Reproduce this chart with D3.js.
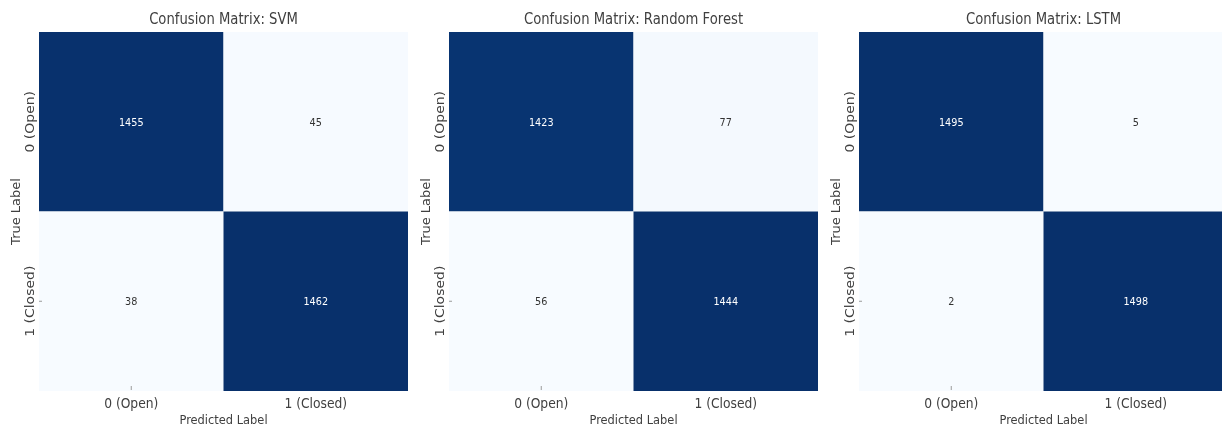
<!DOCTYPE html>
<html>
<head>
<meta charset="utf-8">
<script src="https://cdn.jsdelivr.net/npm/d3@7"></script>
<style>
  html, body { margin: 0; padding: 0; background: #fff; }
  svg { display: block; }
  text { font-family: "DejaVu Sans", sans-serif; }
</style>
</head>
<body>
<svg id="chart" width="1222" height="433"></svg>
<script>
// Confusion matrices for three classifiers (rows: true class, columns: predicted class)
const models = ["SVM", "Random Forest", "LSTM"];
const classLabels = ["0 (Open)", "1 (Closed)"];
const svmMatrix = [[1455, 45], [38, 1462]];
const rfMatrix = [[1423, 77], [56, 1444]];
const lstmMatrix = [[1495, 5], [2, 1498]];
const matrices = [svmMatrix, rfMatrix, lstmMatrix];

// Layout
const panelLeft = [39, 449, 859];
const panelTop = 32;
const panelW = 369;
const panelH = 359;
const sx = 0.88; // narrow horizontal text rendering
const textColor = "#404040";

const svg = d3.select("#chart");

function hText(g, x, y, str, size, opts = {}) {
  return g.append("text")
    .attr("transform", `translate(${x},${y}) scale(${sx},1)` + (opts.rotate ? " rotate(-90)" : ""))
    .attr("text-anchor", "middle")
    .attr("font-size", size)
    .attr("fill", opts.fill || textColor)
    .text(str);
}

models.forEach((name, i) => {
  const m = matrices[i];
  const cells = [];
  m.forEach((row, r) => row.forEach((v, c) => cells.push({ r, c, v })));
  const vals = cells.map(d => d.v);

  const x = d3.scaleBand().domain(d3.range(classLabels.length))
    .range([panelLeft[i], panelLeft[i] + panelW]);
  const y = d3.scaleBand().domain(d3.range(classLabels.length))
    .range([panelTop, panelTop + panelH]);
  const color = d3.scaleSequential(d3.interpolateBlues)
    .domain([d3.min(vals), d3.max(vals)]);

  const g = svg.append("g");

  // heatmap cells
  g.selectAll("rect.cell").data(cells).join("rect")
    .attr("class", "cell")
    .attr("x", d => x(d.c))
    .attr("y", d => y(d.r))
    .attr("width", x.bandwidth())
    .attr("height", y.bandwidth())
    .attr("fill", d => color(d.v));

  // tick marks (only visible over light cells)
  const ticks = g.append("g").style("mix-blend-mode", "darken");
  classLabels.forEach((lab, k) => {
    ticks.append("line")
      .attr("x1", x(k) + x.bandwidth() / 2).attr("x2", x(k) + x.bandwidth() / 2)
      .attr("y1", panelTop + panelH - 5).attr("y2", panelTop + panelH - 1)
      .attr("stroke", "#9a9a9a").attr("stroke-width", 1);
    ticks.append("line")
      .attr("x1", panelLeft[i]).attr("x2", panelLeft[i] + 3)
      .attr("y1", y(k) + y.bandwidth() / 2).attr("y2", y(k) + y.bandwidth() / 2)
      .attr("stroke", "#9a9a9a").attr("stroke-width", 1);
  });

  // cell annotations
  cells.forEach(d => {
    const dark = d3.lab(color(d.v)).l < 55;
    hText(g, x(d.c) + x.bandwidth() / 2, y(d.r) + y.bandwidth() / 2 + 4, d3.format("d")(d.v), 11,
      { fill: dark ? "#ffffff" : "#333333" });
  });

  // title
  hText(g, panelLeft[i] + panelW / 2, 24, `Confusion Matrix: ${name}`, 15);

  // x tick labels and axis label
  classLabels.forEach((lab, k) => {
    hText(g, x(k) + x.bandwidth() / 2, 408, lab, 14);
  });
  hText(g, panelLeft[i] + panelW / 2, 424, "Predicted Label", 13);

  // y tick labels and axis label
  classLabels.forEach((lab, k) => {
    hText(g, panelLeft[i] - 5, y(k) + y.bandwidth() / 2, lab, 14, { rotate: true });
  });
  hText(g, panelLeft[i] - 19, panelTop + panelH / 2, "True Label", 13, { rotate: true });
});
</script>
</body>
</html>
